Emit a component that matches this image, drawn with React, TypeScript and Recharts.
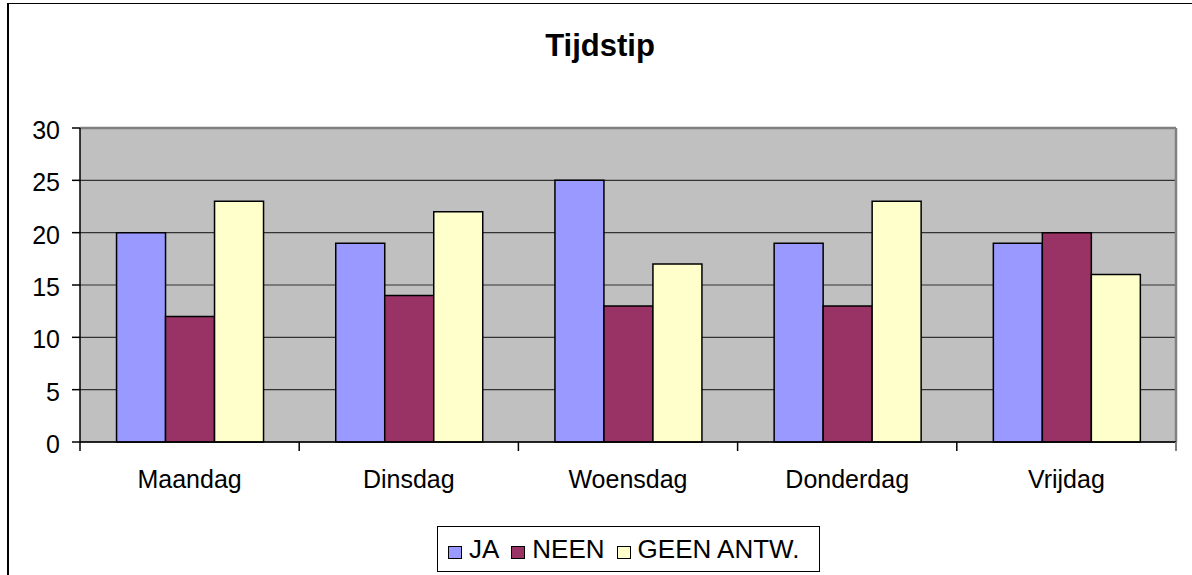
import { BarChart, Bar, XAxis, YAxis, CartesianGrid, Legend } from "recharts";

const days = ["Maandag", "Dinsdag", "Woensdag", "Donderdag", "Vrijdag"];
const ja = [20, 19, 25, 19, 19];
const neen = [12, 14, 13, 13, 20];
const geenAntw = [23, 22, 17, 23, 16];
const yTicks = [0, 5, 10, 15, 20, 25, 30];

const series = [
  { key: "ja", name: "JA", color: "#9999FF" },
  { key: "neen", name: "NEEN", color: "#993366" },
  { key: "geen", name: "GEEN ANTW.", color: "#FFFFCC" },
];

const data = days.map((day, i) => ({
  day,
  ja: ja[i],
  neen: neen[i],
  geen: geenAntw[i],
}));

const font = "'Liberation Sans', Arial, sans-serif";

function DayTick(props: any) {
  const { x, y, payload, index, visibleTicksCount } = props;
  const half = payload?.offset || 109.6;
  const last = index === (visibleTicksCount ?? days.length) - 1;
  return (
    <g>
      <line x1={x - half} y1={y} x2={x - half} y2={y + 9} stroke="#000" strokeWidth={1.5} />
      {last && (
        <line x1={x + half} y1={y} x2={x + half} y2={y + 9} stroke="#808080" strokeWidth={2} />
      )}
      <text x={x} y={y + 46} textAnchor="middle" fontSize={25} fontFamily={font} fill="#000">
        {payload.value}
      </text>
    </g>
  );
}

function LegendBox() {
  return (
    <div
      style={{
        boxSizing: "border-box",
        width: 383,
        height: 46,
        border: "1px solid #000",
        background: "#fff",
        display: "flex",
        alignItems: "center",
        paddingLeft: 10,
        fontFamily: font,
        fontSize: 26,
        color: "#000",
        whiteSpace: "nowrap",
        overflow: "visible",
      }}
    >
      {series.map((s) => (
        <div key={s.key} style={{ display: "flex", alignItems: "center", marginRight: 12, flexShrink: 0 }}>
          <span
            style={{
              display: "inline-block",
              boxSizing: "border-box",
              width: 14,
              height: 13,
              background: s.color,
              border: "1.5px solid #000",
              marginRight: 7,
              marginTop: 6,
              flexShrink: 0,
            }}
          />
          <span>{s.name}</span>
        </div>
      ))}
    </div>
  );
}

export default function App() {
  return (
    <div style={{ position: "absolute", left: 0, top: 0, width: 1192, height: 575, overflow: "hidden", background: "#fff" }}>
      <div
        style={{
          position: "absolute",
          left: 7,
          top: 3,
          width: 1300,
          height: 700,
          borderLeft: "2px solid #000",
          borderTop: "1.5px solid #000",
        }}
      />
      <div style={{ position: "absolute", left: 0, top: 0 }}>
        <BarChart
          width={1192}
          height={575}
          data={data}
          margin={{ top: 128, right: 16, left: 20, bottom: 103 }}
          barCategoryGap="16.67%"
          barGap={0}
        >
          <text x={600} y={56} textAnchor="middle" fontSize={31} fontWeight="bold" fontFamily={font} fill="#000">
            Tijdstip
          </text>
          <CartesianGrid vertical={false} stroke="#333" strokeWidth={1.2} fill="#C0C0C0" fillOpacity={1} />
          <CartesianGrid
            vertical
            horizontal
            stroke="#808080"
            strokeWidth={2.5}
            horizontalCoordinatesGenerator={({ offset }: any) => [offset.top]}
            verticalCoordinatesGenerator={({ offset }: any) => [offset.left + offset.width]}
          />
          <XAxis
            dataKey="day"
            height={30}
            axisLine={{ stroke: "#000", strokeWidth: 1.5 }}
            tickLine={false}
            tickSize={0}
            tickMargin={0}
            interval={0}
            tick={<DayTick />}
          />
          <YAxis
            width={60}
            domain={[0, 30]}
            ticks={yTicks}
            interval={0}
            axisLine={{ stroke: "#000", strokeWidth: 1.5 }}
            tickLine={{ stroke: "#000", strokeWidth: 1.5 }}
            tickSize={8}
            tickMargin={12}
            tick={{ fontSize: 25, fontFamily: font, fill: "#000", dy: 2 }}
          />
          <Legend
            layout="horizontal"
            verticalAlign="middle"
            align="center"
            wrapperStyle={{ position: "absolute", left: 437, top: 526, width: 383, height: 46 }}
            content={<LegendBox />}
          />
          {series.map((s) => (
            <Bar
              key={s.key}
              dataKey={s.key}
              name={s.name}
              fill={s.color}
              stroke="#000"
              strokeWidth={1.5}
              isAnimationActive={false}
            />
          ))}
        </BarChart>
      </div>
    </div>
  );
}
